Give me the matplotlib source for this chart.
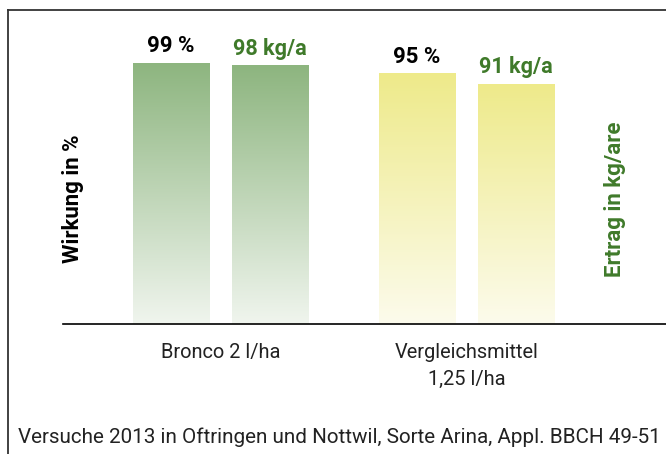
import matplotlib
matplotlib.use("Agg")
import matplotlib.pyplot as plt
import numpy as np
from matplotlib.colors import LinearSegmentedColormap
from matplotlib.lines import Line2D

categories = ["Bronco 2 l/ha", "Vergleichsmittel\n1,25 l/ha"]
wirkung = [99, 95]
ertrag = [98, 91]
wirkung_labels = ["99 %", "95 %"]
ertrag_labels = ["98 kg/a", "91 kg/a"]
footnote = "Versuche 2013 in Oftringen und Nottwil, Sorte Arina, Appl. BBCH 49-51"

FONT = ["Roboto", "DejaVu Sans"]
DARKGREEN = "#3f7a2a"
group_colors = [("#8db57f", "#f0f5ee"), ("#eeea8a", "#fcfbec")]

fig = plt.figure(figsize=(6.66, 4.54), dpi=100)
W, H = 666, 454
ax = fig.add_axes([63 / W, 1 - 324 / H, (W - 63) / W, (324 - 10) / H])

x = np.arange(len(categories))
off = 0.201
bw = 0.309
b1 = ax.bar(x - off, wirkung, width=bw, color="none")
b2 = ax.bar(x + off, ertrag, width=bw, color="none")

ax.set_xlim(-0.640, 1.811)
ax.set_ylim(0, 119)

grad = np.linspace(1, 0, 256).reshape(-1, 1)
for bars in (b1, b2):
    for i, p in enumerate(bars):
        top, bot = group_colors[i]
        cmap = LinearSegmentedColormap.from_list("g", [bot, top])
        x0, y0 = p.get_x(), p.get_y()
        w, h = p.get_width(), p.get_height()
        im = ax.imshow(grad, cmap=cmap, aspect="auto",
                       extent=[x0, x0 + w, y0, y0 + h], origin="upper", zorder=1)
        im.set_clip_path(p)

for i, p in enumerate(b1):
    ax.text(p.get_x() + p.get_width() / 2, p.get_height() + 2.2, wirkung_labels[i],
            ha="center", va="bottom", fontsize=16, fontweight="bold",
            family=FONT, color="black")
for i, p in enumerate(b2):
    ax.text(p.get_x() + p.get_width() / 2, p.get_height() + 2.2, ertrag_labels[i],
            ha="center", va="bottom", fontsize=15.6, fontweight="bold",
            family=FONT, color=DARKGREEN)

ax.set_xticks(x)
ax.set_xticklabels(categories, fontsize=14.4, family=FONT, color="#222222",
                   linespacing=1.5)
ax.tick_params(axis="x", length=0, pad=14)
ax.set_yticks([])
for s in ("top", "right", "left"):
    ax.spines[s].set_visible(False)
ax.spines["bottom"].set_color("black")
ax.spines["bottom"].set_linewidth(1.2)
ax.set_xlim(-0.640, 1.811)

fig.text(73 / W, 1 - 199 / H, "Wirkung in %", rotation=90, ha="center", va="center",
         fontsize=16, fontweight="bold", family=FONT, color="black")
fig.text(615 / W, 1 - 199 / H, "Ertrag in kg/are", rotation=90, ha="center", va="center",
         fontsize=16, fontweight="bold", family=FONT, color=DARKGREEN)

fig.text(18 / W, 1 - 437 / H, footnote, ha="left", va="center",
         fontsize=14.9, family=FONT, color="#222222")

fig.add_artist(Line2D([8 / W, 8 / W], [0, 1 - 10 / H], transform=fig.transFigure,
                      color="#333333", linewidth=1.3))
fig.add_artist(Line2D([8 / W, 1], [1 - 10 / H, 1 - 10 / H], transform=fig.transFigure,
                      color="#333333", linewidth=1.3))

fig.savefig("out.png", dpi=100)
